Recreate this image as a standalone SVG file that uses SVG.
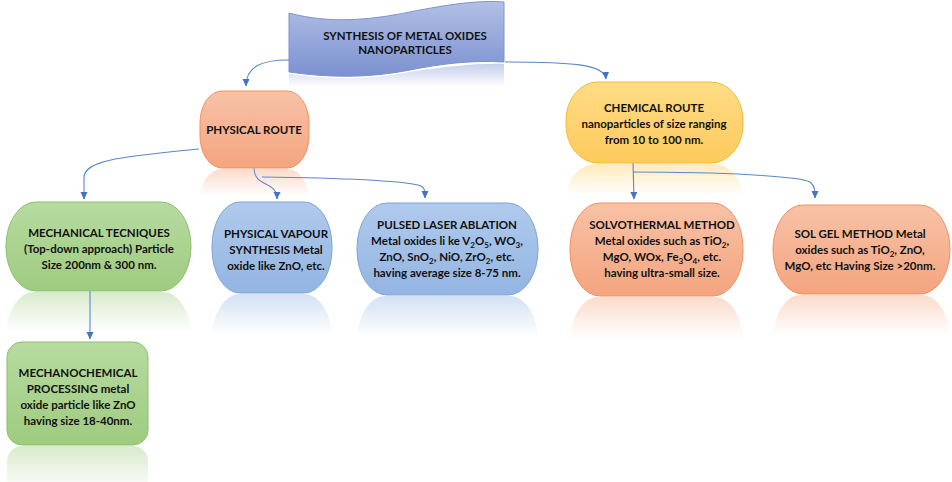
<svg xmlns="http://www.w3.org/2000/svg" width="952" height="482" viewBox="0 0 952 482">
<style>
.t{font-family:Lato,"Liberation Sans",sans-serif;font-weight:bold;font-size:11.5px;fill:#111;text-anchor:middle}
.c{fill:none;stroke:#5b87c9;stroke-width:1.1;marker-end:url(#ah)}
.green{fill:url(#gG);stroke:#8dbf6c;stroke-width:1}
.blue{fill:url(#gB);stroke:#7fa5d8;stroke-width:1}
.orange{fill:url(#gO);stroke:#f0915f;stroke-width:1}
.yellow{fill:url(#gY);stroke:#f3b935;stroke-width:1}
</style>
<defs>
<marker id="ah" markerWidth="8" markerHeight="8" refX="7" refY="4" orient="auto" markerUnits="userSpaceOnUse"><path d="M0,0.5 L7.5,4 L0,7.5 z" fill="#4472c4"/></marker>
<linearGradient id="gG" x1="0" y1="0" x2="0" y2="1"><stop offset="0" stop-color="#b7dba0"/><stop offset="1" stop-color="#9fcb80"/></linearGradient>
<linearGradient id="gB" x1="0" y1="0" x2="0" y2="1"><stop offset="0" stop-color="#b0caec"/><stop offset="1" stop-color="#93b5e2"/></linearGradient>
<linearGradient id="gO" x1="0" y1="0" x2="0" y2="1"><stop offset="0" stop-color="#f8c2a6"/><stop offset="1" stop-color="#f4a47f"/></linearGradient>
<linearGradient id="gY" x1="0" y1="0" x2="0" y2="1"><stop offset="0" stop-color="#ffdc86"/><stop offset="1" stop-color="#fdca5c"/></linearGradient>
<linearGradient id="gBan" x1="0" y1="0" x2="0" y2="1"><stop offset="0" stop-color="#b2c0e6"/><stop offset="1" stop-color="#7b91d0"/></linearGradient>
<linearGradient id="rG" x1="0" y1="0" x2="0" y2="1"><stop offset="0" stop-color="#a9d18e" stop-opacity="0.45"/><stop offset="0.45" stop-color="#a9d18e" stop-opacity="0"/></linearGradient>
<linearGradient id="rB" x1="0" y1="0" x2="0" y2="1"><stop offset="0" stop-color="#9dbde6" stop-opacity="0.45"/><stop offset="0.45" stop-color="#9dbde6" stop-opacity="0"/></linearGradient>
<linearGradient id="rO" x1="0" y1="0" x2="0" y2="1"><stop offset="0" stop-color="#f6ae8c" stop-opacity="0.45"/><stop offset="0.45" stop-color="#f6ae8c" stop-opacity="0"/></linearGradient>
<linearGradient id="rY" x1="0" y1="0" x2="0" y2="1"><stop offset="0" stop-color="#fed06a" stop-opacity="0.45"/><stop offset="0.45" stop-color="#fed06a" stop-opacity="0"/></linearGradient>
<linearGradient id="rBan" x1="0" y1="0" x2="0" y2="1"><stop offset="0" stop-color="#8a9fd6" stop-opacity="0.5"/><stop offset="0.5" stop-color="#8a9fd6" stop-opacity="0"/></linearGradient>
</defs>

<g id="reflections">
<path d="M289,74 C 330,80 370,80 410,72 C 450,66 480,63 504,64 L 504,110 L 289,110 Z" fill="url(#rBan)"/>
<rect x="200" y="169" width="109" height="60" rx="22" ry="30" fill="url(#rO)"/>
<rect x="566" y="164" width="177" height="70" rx="30" ry="35" fill="url(#rY)"/>
<rect x="6" y="292" width="185" height="89" rx="28" ry="44" fill="url(#rG)"/>
<rect x="212" y="294" width="120" height="90" rx="28" ry="44" fill="url(#rB)"/>
<rect x="357" y="296" width="181" height="92" rx="28" ry="45" fill="url(#rB)"/>
<rect x="570" y="297" width="173" height="93" rx="28" ry="45" fill="url(#rO)"/>
<rect x="773" y="295" width="177" height="89" rx="28" ry="44" fill="url(#rO)"/>
<rect x="7" y="446" width="141" height="103" rx="15" fill="url(#rG)"/>
</g>

<g id="connectors">
<path class="c" d="M289,60 C 262,60 246,66 246,86"/>
<path class="c" d="M505,62 C 570,62 605,64 606,79"/>
<path class="c" d="M199,149 C 120,157 84,160 84,178 L 84,199"/>
<path class="c" d="M254,168 C 254,188 277,180 277,199"/>
<path class="c" d="M262,177 C 340,178 400,181 418,185 C 425,187 425,190 425,198"/>
<path class="c" d="M633,163 L 634,199"/>
<path class="c" d="M633,172 C 720,172 800,176 810,182 C 815,186 815,190 815,198"/>
<path class="c" d="M90,291 L 90,339"/>
</g>

<g id="banner">
<path d="M289,13 C 330,24 370,20 410,12 C 450,4 480,0 504,2 L 504,62 C 470,60 440,64 410,70 C 370,78 330,78 289,72 Z" fill="url(#gBan)" stroke="#7f93cc" stroke-width="1"/>
<text class="t" x="405" y="40">SYNTHESIS OF METAL OXIDES</text>
<text class="t" x="405" y="54">NANOPARTICLES</text>
</g>

<g id="physical-route">
<rect class="orange" x="200" y="91" width="109" height="77" rx="22" ry="32"/>
<text class="t" x="254" y="134">PHYSICAL ROUTE</text>
</g>

<g id="chemical-route">
<rect class="yellow" x="566" y="82" width="177" height="81" rx="32" ry="38"/>
<text class="t" x="654" y="112">CHEMICAL ROUTE</text>
<text class="t" x="654" y="128">nanoparticles of size ranging</text>
<text class="t" x="654" y="144">from 10 to 100 nm.</text>
</g>

<g id="mechanical">
<rect class="green" x="6" y="202" width="185" height="89" rx="30" ry="44"/>
<text class="t" x="99" y="237">MECHANICAL TECNIQUES</text>
<text class="t" x="99" y="253">(Top-down approach) Particle</text>
<text class="t" x="99" y="269">Size 200nm &amp; 300 nm.</text>
</g>

<g id="physical-vapour">
<rect class="blue" x="212" y="202" width="120" height="91" rx="28" ry="44"/>
<text class="t" x="276" y="238">PHYSICAL VAPOUR</text>
<text class="t" x="276" y="254">SYNTHESIS Metal</text>
<text class="t" x="276" y="270">oxide like ZnO, etc.</text>
</g>

<g id="pulsed-laser">
<rect class="blue" x="357" y="203" width="181" height="92" rx="30" ry="45"/>
<text class="t" x="447" y="229">PULSED LASER ABLATION</text>
<text class="t" x="447" y="245">Metal oxides li ke V<tspan font-size="8" dy="2.5">2</tspan><tspan dy="-2.5">O</tspan><tspan font-size="8" dy="2.5">5</tspan><tspan dy="-2.5">, WO</tspan><tspan font-size="8" dy="2.5">3</tspan><tspan dy="-2.5">,</tspan></text>
<text class="t" x="447" y="261">ZnO, SnO<tspan font-size="8" dy="2.5">2</tspan><tspan dy="-2.5">, NiO, ZrO</tspan><tspan font-size="8" dy="2.5">2</tspan><tspan dy="-2.5">, etc.</tspan></text>
<text class="t" x="447" y="277">having average size 8-75 nm.</text>
</g>

<g id="solvothermal">
<rect class="orange" x="570" y="203" width="173" height="93" rx="30" ry="45"/>
<text class="t" x="662" y="229">SOLVOTHERMAL METHOD</text>
<text class="t" x="662" y="245">Metal oxides such as TiO<tspan font-size="8" dy="2.5">2</tspan><tspan dy="-2.5">,</tspan></text>
<text class="t" x="662" y="261">MgO, WOx, Fe<tspan font-size="8" dy="2.5">3</tspan><tspan dy="-2.5">O</tspan><tspan font-size="8" dy="2.5">4</tspan><tspan dy="-2.5">, etc.</tspan></text>
<text class="t" x="662" y="277">having ultra-small size.</text>
</g>

<g id="sol-gel">
<rect class="orange" x="773" y="205" width="177" height="89" rx="30" ry="44"/>
<text class="t" x="860" y="238">SOL GEL METHOD Metal</text>
<text class="t" x="860" y="254">oxides such as TiO<tspan font-size="8" dy="2.5">2</tspan><tspan dy="-2.5">, ZnO,</tspan></text>
<text class="t" x="860" y="270">MgO, etc Having Size &gt;20nm.</text>
</g>

<g id="mechanochemical">
<rect class="green" x="7" y="342" width="141" height="103" rx="15"/>
<text class="t" x="78" y="377">MECHANOCHEMICAL</text>
<text class="t" x="78" y="393">PROCESSING metal</text>
<text class="t" x="78" y="409">oxide particle like ZnO</text>
<text class="t" x="78" y="425">having size 18-40nm.</text>
</g>
</svg>
